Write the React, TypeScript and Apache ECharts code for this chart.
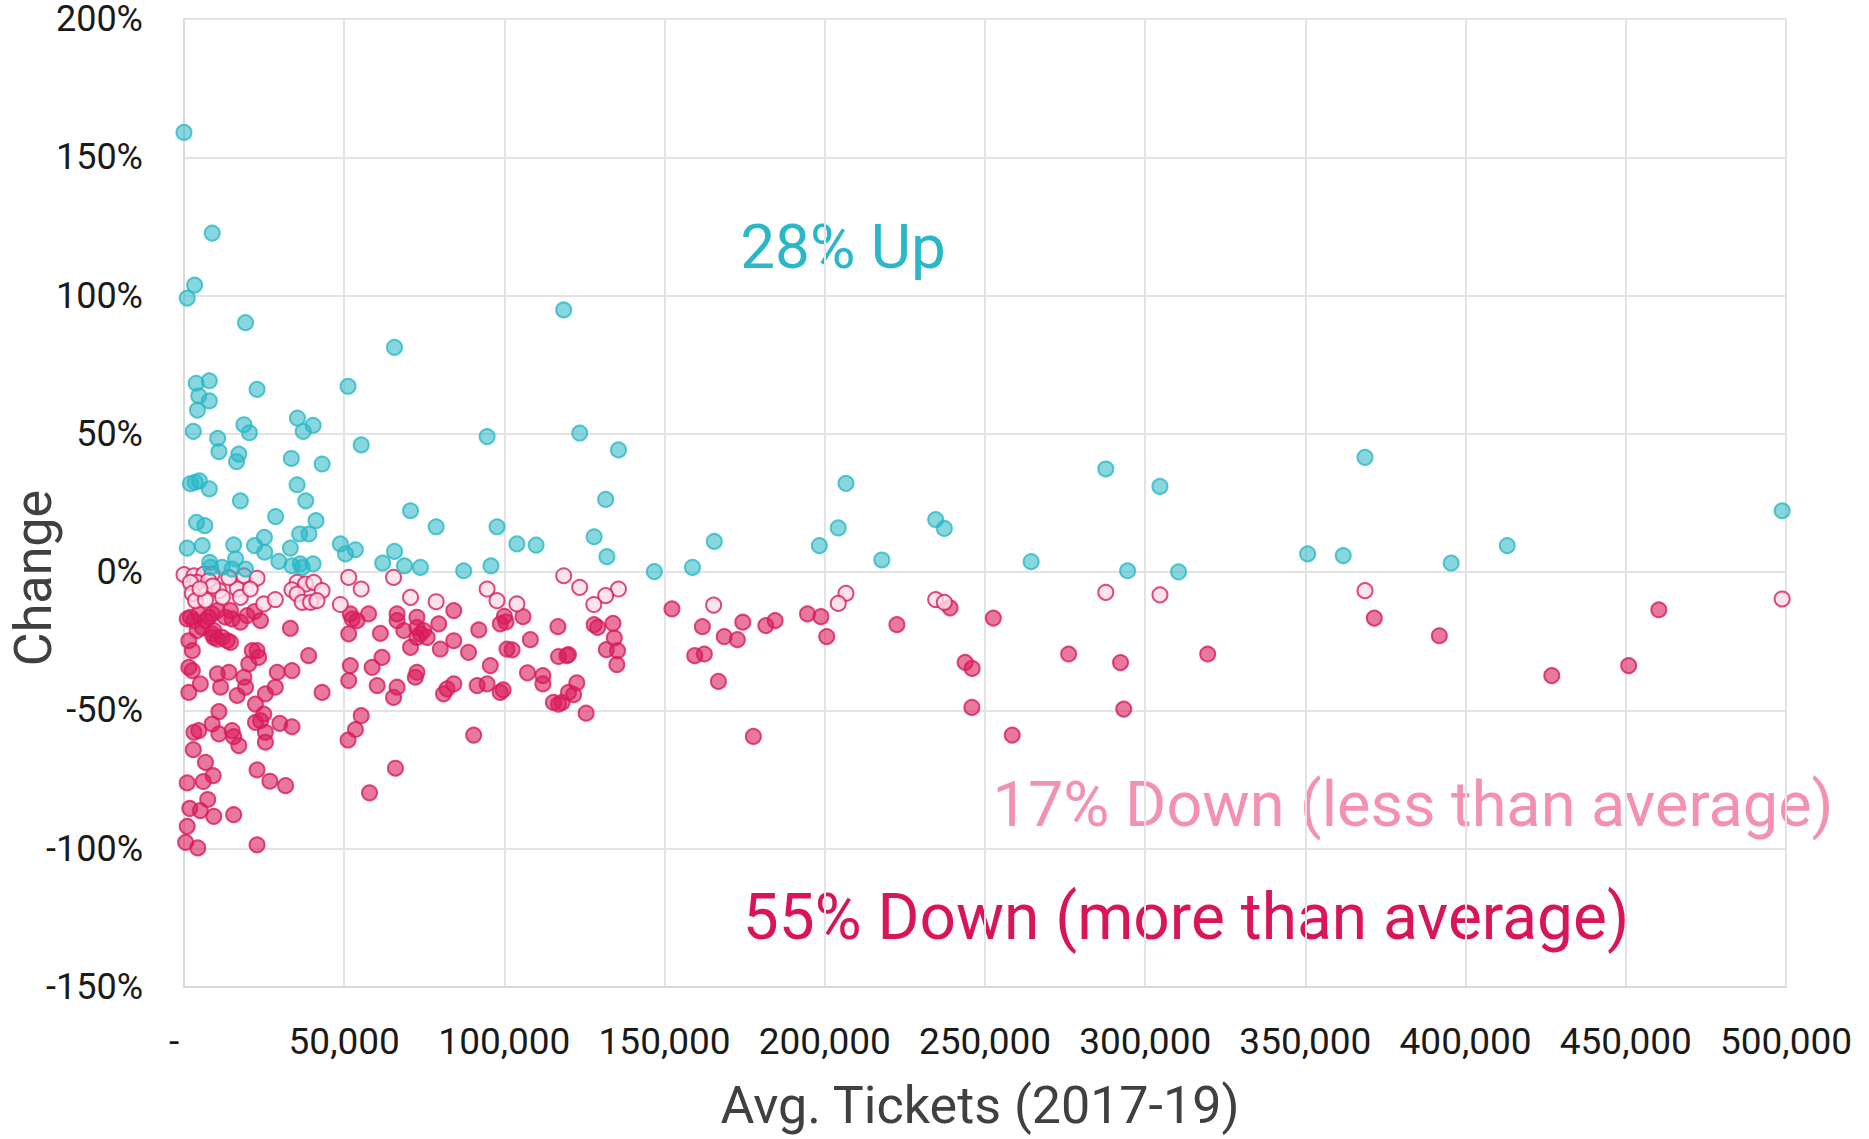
import React, { useEffect, useRef } from "react";
import * as echarts from "echarts";

// Avg. tickets (2017-19) vs change (%)
const upPoints: [number, number][] = [
  [0, 159], [8800, 122.6], [3300, 103.8], [1000, 99.1], [19200, 90.2], [65700, 81.3],
  [3800, 68.3], [7900, 69.2], [22800, 66.1], [51200, 67.2], [4600, 63.7], [7900, 61.9],
  [4200, 58.6], [35400, 55.7], [40300, 53.1], [37200, 50.9], [18700, 53.3], [20400, 50.4],
  [2900, 50.9], [10500, 48.4], [94600, 49], [55300, 46], [10900, 43.6], [17100, 42.7],
  [16400, 40], [33500, 41.1], [43100, 39.1], [2000, 32], [3500, 32.5], [4800, 33],
  [7900, 30.1], [17600, 25.8], [35300, 31.6], [38000, 25.8], [3900, 18], [6500, 16.8],
  [28600, 20.1], [41200, 18.6], [36100, 13.8], [39000, 13.8], [25100, 12.6], [22000, 9.6],
  [25200, 7.2], [1000, 8.7], [5700, 9.6], [15500, 9.9], [16100, 4.8], [8000, 3.5],
  [11900, 1.7], [15000, 1.1], [19200, 1.1], [8300, 1.7], [29600, 3.9], [33200, 8.7],
  [33700, 2.3], [36300, 3], [40300, 3], [36900, 1.7], [48800, 10.2], [50400, 6.6],
  [53500, 8.1], [62000, 3.3], [65700, 7.5], [68800, 2.3], [73800, 1.7], [70700, 22.2],
  [78700, 16.4], [87300, 0.5], [95800, 2.3], [97700, 16.4], [103900, 10.2], [109900, 9.8],
  [118500, 94.8], [123500, 50.3], [135600, 44.2], [131600, 26.3], [128000, 12.8], [132000, 5.6],
  [146800, 0.2], [158700, 1.7], [165500, 11.1], [198300, 9.6], [204200, 16], [206600, 32.1],
  [217800, 4.4], [234600, 19], [237300, 15.8], [264400, 3.8], [287700, 37.3], [304600, 31],
  [294500, 0.5], [310400, 0.1], [350700, 6.6], [361800, 6], [368600, 41.5], [395500, 3.3],
  [413000, 9.6], [498800, 22.2],
];

const lessDownPoints: [number, number][] = [
  [0, -0.9], [3100, -1.3], [6200, -0.7], [8800, -0.7], [4100, -3.7], [7700, -3.1],
  [2000, -3.7], [10900, -6.7], [2600, -7.7], [3600, -10.3], [6700, -10.1], [18700, -1.3],
  [22800, -2.2], [16600, -6.1], [17600, -9.1], [20700, -6.1], [24900, -11.5], [28500, -9.9],
  [35300, -3.7], [37900, -4.3], [40500, -3.7], [43100, -6.7], [33700, -6.4], [35300, -7.9],
  [36900, -10.9], [39500, -10.9], [41500, -10.3], [48800, -11.7], [51400, -1.9], [55300, -6.1],
  [65400, -1.9], [70700, -9.1], [78700, -10.7], [94600, -6.1], [97700, -10.3], [103900, -11.5],
  [118500, -1.3], [123500, -5.5], [135600, -6.1], [131600, -8.5], [127900, -11.7], [165300, -11.9],
  [206600, -7.7], [204200, -11.3], [234600, -9.9], [237300, -10.9], [287700, -7.3], [304600, -8.2],
  [368600, -6.7], [498800, -9.7], [9000, -5], [14000, -2], [12000, -9], [5000, -6],
];

const moreDownPoints: [number, number][] = [
  [152300, -13.3], [161800, -19.7], [168600, -23.3], [172700, -24.4], [174400, -18.1], [181600, -19.3],
  [184500, -17.5], [194600, -15.1], [198800, -16.1], [200600, -23.3], [222500, -19], [159400, -30.2],
  [162400, -29.6], [166800, -39.5], [177700, -59.4], [105800, -16.1], [100000, -16], [100500, -18],
  [116700, -19.7], [108100, -24.4], [100800, -27.8], [102400, -28.1], [128000, -19], [129100, -20],
  [133900, -18.5], [134300, -23.8], [131800, -28], [135300, -28.4], [135100, -33.4], [116900, -30.5],
  [119500, -30.2], [120000, -29.8], [107200, -36.4], [112000, -37.4], [112000, -40.4], [99600, -42.6],
  [122600, -40], [120000, -43.5], [121600, -44.3], [115300, -47.1], [116900, -47.7], [118000, -47.1],
  [125500, -51],
  [2000, -16.3], [4600, -15.1], [7700, -16.3], [10400, -13.9], [6700, -17.5], [4100, -21.1],
  [9300, -21.1], [14500, -13.9], [17600, -18.1], [19700, -15.7], [15000, -16.9], [33200, -20.3],
  [51400, -22.3], [51900, -15.1], [57600, -15.1], [61300, -22.1], [66500, -15.1], [68600, -21.1],
  [72700, -16.3], [73800, -22.3], [75900, -23.6], [79500, -18.7], [84200, -13.9], [84200, -24.8],
  [88800, -29], [80000, -27.8], [92000, -20.9], [98700, -18.7],
  [1500, -24.8], [2600, -28.4], [9300, -23.6], [11900, -23.6], [14500, -25.4], [21300, -28.4],
  [22800, -28.4], [38900, -30.2], [61800, -30.8], [58700, -34.4], [51900, -33.8], [51400, -39.2],
  [60300, -41], [66500, -41.6], [72700, -36.2], [72200, -38], [84200, -40.4], [82100, -42.2],
  [81000, -44], [91500, -41], [94600, -40.4], [98700, -43.5], [95600, -33.8], [1500, -34.4],
  [2600, -35.6], [10400, -36.8], [14000, -36.2], [18700, -38], [29100, -36.2], [33700, -35.6],
  [43100, -43.5], [5100, -40.4], [11400, -41.6], [1500, -43.5], [16600, -44.6], [25400, -44],
  [28500, -41.6], [23300, -30.8], [20200, -33.2], [19200, -41.6], [13500, -24.8], [10400, -24.2],
  [8800, -22.3], [3100, -17.5], [5700, -20], [52500, -16.9], [54000, -17.5], [66500, -17.5],
  [72700, -20], [74800, -21.1], [70700, -27.2], [72700, -23.6], [1000, -16.9], [8800, -15.1],
  [12900, -16.3], [22000, -14.3], [23900, -17.5],
  [10900, -50.4], [3100, -57.9], [4600, -57.3], [8800, -54.9], [10900, -58.5], [15000, -57.3],
  [15500, -59.5], [17100, -62.7], [2900, -64.2], [6700, -68.8], [9100, -73.6], [1000, -76.2],
  [6000, -75.7], [1800, -85.4], [5100, -86.2], [7400, -82.2], [9300, -88.3], [15500, -87.7],
  [1000, -91.9], [500, -97.7], [4300, -99.7], [22800, -98.6], [22800, -71.5], [26800, -75.6],
  [31700, -77.2], [22300, -47.7], [24900, -51.3], [22300, -54.3], [23900, -53.7], [25400, -57.9],
  [25400, -61.5], [29900, -54.7], [33700, -55.9], [55300, -51.9], [53500, -56.9], [51200, -60.7],
  [90400, -58.9], [66000, -70.9], [57900, -79.8], [65400, -45.3],
  [239100, -12.9], [252600, -16.6], [243800, -32.6], [246000, -34.8], [245900, -48.9], [258500, -58.9],
  [276100, -29.6], [292300, -32.7], [293300, -49.5], [319500, -29.6],
  [371500, -16.6], [391800, -23], [426900, -37.4], [450900, -33.8], [460300, -13.6],
];

const annotationTexts = ["28% Up", "17% Down (less than average)", "55% Down (more than average)"];
const xAxisTitle = "Avg. Tickets (2017-19)";
const yAxisTitle = "Change";

const FONT = "Roboto, 'Open Sans', sans-serif";

export default function App() {
  const ref = useRef<HTMLDivElement>(null);

  useEffect(() => {
    if (!ref.current) return;
    const chart = echarts.init(ref.current, undefined, { renderer: "svg" });
    const teal = "#2bb8c6";
    const crimson = "#d81b5a";
    chart.setOption({
      animation: false,
      backgroundColor: "#ffffff",
      grid: { left: 184, right: 83, top: 19, bottom: 152, containLabel: false },
      xAxis: {
        type: "value",
        min: 0,
        max: 500000,
        interval: 50000,
        axisLine: { show: true, onZero: false, lineStyle: { color: "#d9d9d9", width: 2 } },
        axisTick: { show: false },
        splitLine: { show: true, lineStyle: { color: "#e3e3e3", width: 2 } },
        axisLabel: {
          margin: 36,
          fontFamily: FONT,
          fontSize: 37,
          color: "#1a1a1a",
          formatter: (v: number) => (v === 0 ? "{z|-}" : v.toLocaleString("en-US")),
          rich: {
            z: { fontFamily: FONT, fontSize: 37, color: "#1a1a1a", padding: [0, 20, 0, 0] },
          },
        },
      },
      yAxis: {
        type: "value",
        min: -150,
        max: 200,
        interval: 50,
        axisLine: { show: true, lineStyle: { color: "#d9d9d9", width: 2 } },
        axisTick: { show: false },
        splitLine: { show: true, lineStyle: { color: "#e3e3e3", width: 2 } },
        axisLabel: {
          margin: 41,
          fontFamily: FONT,
          fontSize: 36,
          lineHeight: 30,
          color: "#1a1a1a",
          formatter: (v: number) => `${v}%`,
        },
      },
      series: [
        {
          type: "scatter",
          name: "Down (more than average)",
          data: moreDownPoints,
          symbolSize: 15,
          itemStyle: { color: "rgba(216,27,90,0.74)", borderColor: crimson, borderWidth: 2 },
        },
        {
          type: "scatter",
          name: "Down (less than average)",
          data: lessDownPoints,
          symbolSize: 15,
          itemStyle: { color: "#fcdde7", borderColor: crimson, borderWidth: 2 },
        },
        {
          type: "scatter",
          name: "Up",
          data: upPoints,
          symbolSize: 15,
          itemStyle: { color: "rgba(43,184,198,0.7)", borderColor: teal, borderWidth: 2 },
        },
      ],
      graphic: [
        {
          type: "text",
          x: 843,
          y: 246,
          style: {
            text: annotationTexts[0],
            fill: "#2ab7c7",
            fontFamily: FONT,
            fontSize: 62,
            align: "center",
            verticalAlign: "middle",
          },
        },
        {
          type: "text",
          x: 1413,
          y: 804,
          style: {
            text: annotationTexts[1],
            fill: "#f590b5",
            fontFamily: FONT,
            fontSize: 63,
            align: "center",
            verticalAlign: "middle",
          },
        },
        {
          type: "text",
          x: 1186,
          y: 917,
          style: {
            text: annotationTexts[2],
            fill: "#d9145a",
            fontFamily: FONT,
            fontSize: 64,
            align: "center",
            verticalAlign: "middle",
          },
        },
        {
          type: "text",
          x: 980,
          y: 1105,
          style: {
            text: xAxisTitle,
            fill: "#404040",
            fontFamily: FONT,
            fontSize: 52,
            align: "center",
            verticalAlign: "middle",
          },
        },
        {
          type: "text",
          x: 33,
          y: 578,
          rotation: Math.PI / 2,
          style: {
            text: yAxisTitle,
            fill: "#404040",
            fontFamily: FONT,
            fontSize: 52,
            align: "center",
            verticalAlign: "middle",
          },
        },
      ],
    });
    return () => chart.dispose();
  }, []);

  return (
    <div
      ref={ref}
      style={{ position: "absolute", left: 0, top: 0, width: "1869px", height: "1139px" }}
    />
  );
}
